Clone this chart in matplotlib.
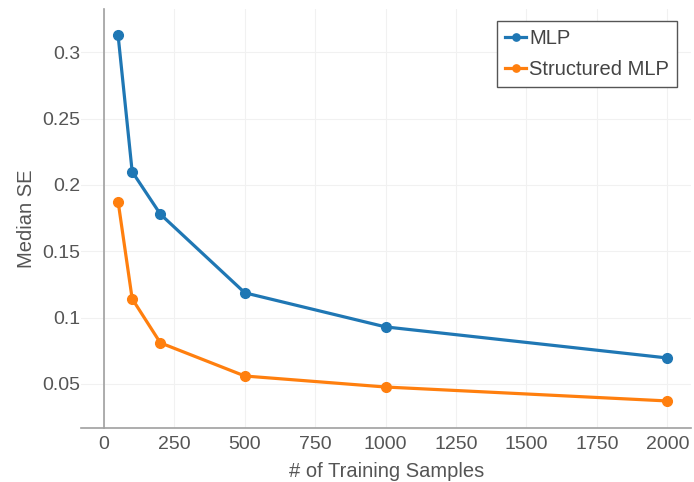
import matplotlib.pyplot as plt

plt.rcParams['font.family'] = ['Liberation Sans', 'DejaVu Sans']

# training set sizes and median squared error for each model
samples = [50, 100, 200, 500, 1000, 2000]
mlp = [0.3128, 0.210, 0.178, 0.1187, 0.093, 0.0696]
structured_mlp = [0.1875, 0.1142, 0.081, 0.056, 0.0477, 0.0372]
xticks = [0, 250, 500, 750, 1000, 1250, 1500, 1750, 2000]
yticks = [0.05, 0.1, 0.15, 0.2, 0.25, 0.3]
ytick_labels = ['0.05', '0.1', '0.15', '0.2', '0.25', '0.3']

fig = plt.figure(figsize=(6.94, 4.82), dpi=100)
ax = fig.add_axes([0.117, 0.112, 0.879, 0.869])

ax.plot(samples, mlp, '-o', color='#1f77b4', lw=2.3, ms=7, label='MLP')
ax.plot(samples, structured_mlp, '-o', color='#ff7f0e', lw=2.3, ms=7,
        label='Structured MLP')

ax.set_xlim(-81, 2085)
ax.set_ylim(0.0168, 0.3325)
ax.set_xticks(xticks)
ax.set_yticks(yticks)
ax.set_yticklabels(ytick_labels)
ax.grid(True, color='#f1f1f1', lw=0.8)
ax.set_axisbelow(True)

# y axis sits on x = 0, bottom axis spans the whole width
ax.spines['left'].set_position(('data', 0))
ax.spines['top'].set_visible(False)
ax.spines['right'].set_visible(False)
for s in ('left', 'bottom'):
    ax.spines[s].set_color('#a0a0a0')
    ax.spines[s].set_linewidth(1.2)
ax.tick_params(length=0, labelsize=14, labelcolor='#555555')
ax.tick_params(axis='x', pad=6)
ax.tick_params(axis='y', pad=17)

ax.set_xlabel('# of Training Samples', fontsize=14.5, color='#555555', labelpad=6)
ax.set_ylabel('Median SE', fontsize=14.5, color='#555555')
ax.yaxis.set_label_coords(-0.074, 0.5)

leg = ax.legend(loc='upper right', bbox_to_anchor=(0.977, 0.971), fontsize=14.5,
                fancybox=False, framealpha=1, edgecolor='#555555',
                handlelength=1.05, handletextpad=0.15, borderpad=0.4,
                labelspacing=0.6, borderaxespad=0, markerscale=0.75)
leg.get_frame().set_linewidth(1.0)
for t in leg.get_texts():
    t.set_color('#444444')

fig.savefig('out.png', dpi=100)
